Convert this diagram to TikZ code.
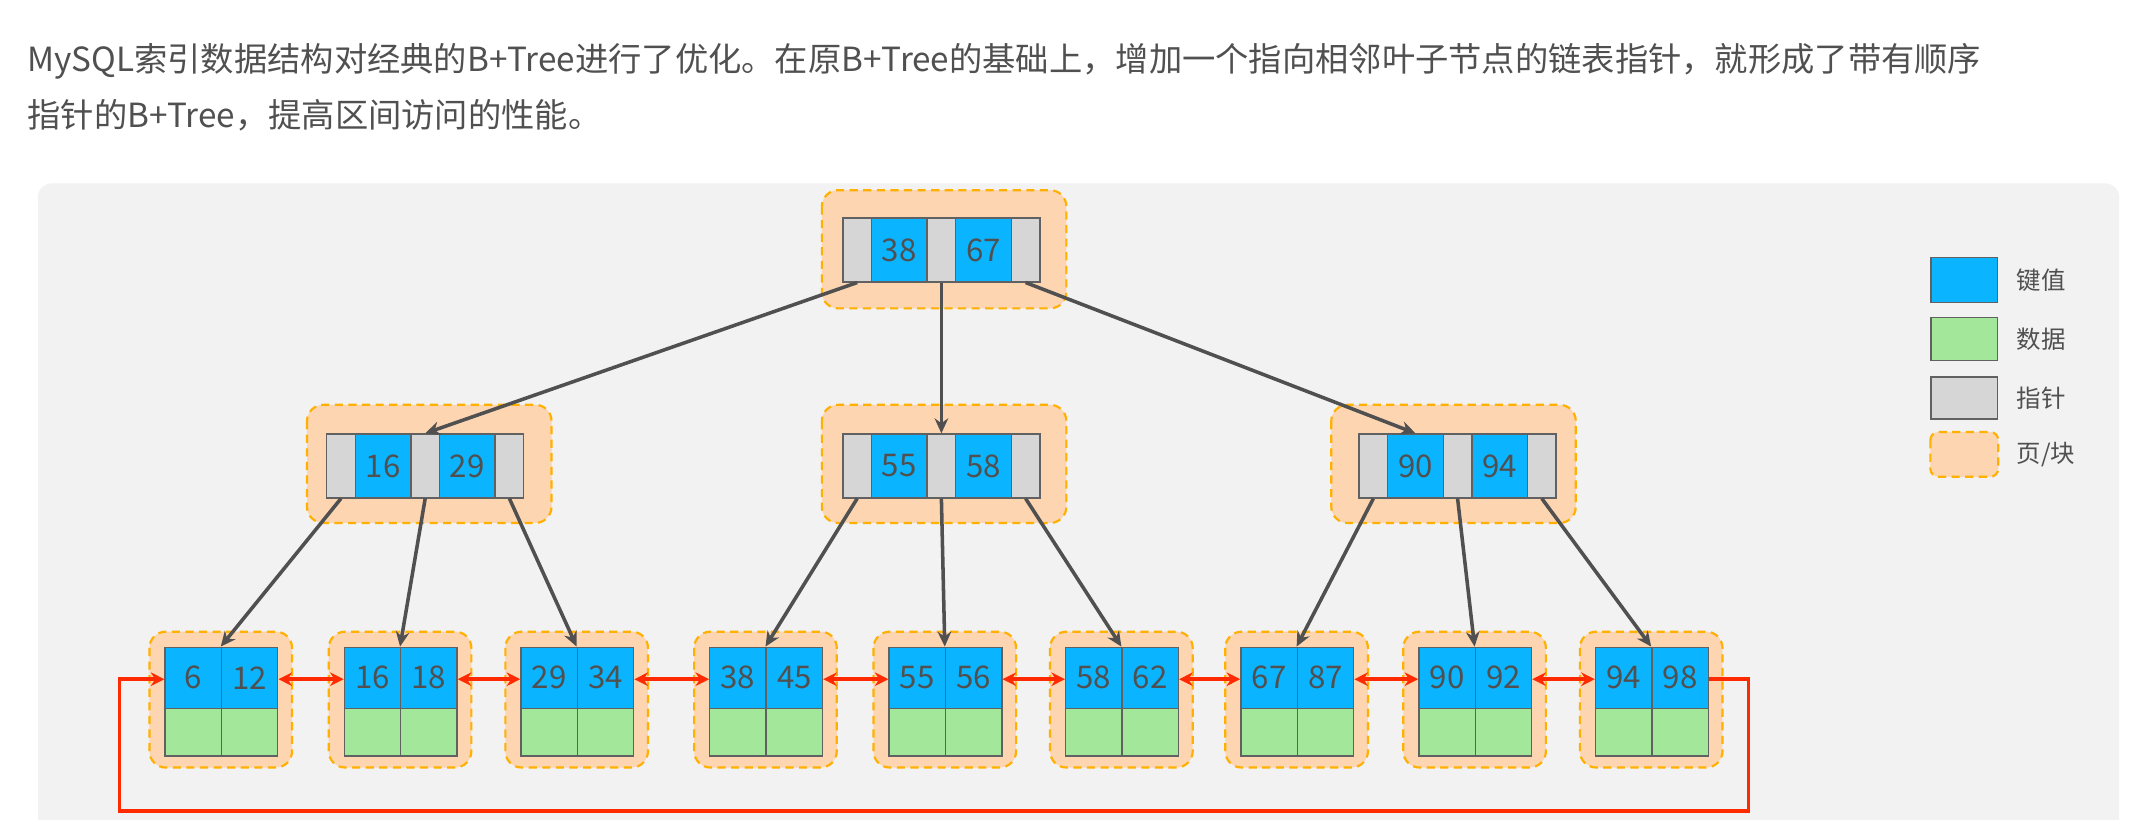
\documentclass[tikz,border=0pt]{standalone}
\usepackage{fontspec}
\setmainfont{Noto Sans CJK SC}
\usetikzlibrary{arrows.meta}
\definecolor{kblue}{HTML}{0BB4FF}
\definecolor{kgreen}{HTML}{A3E89A}
\definecolor{kgray}{HTML}{D6D6D6}
\definecolor{kpage}{HTML}{FDD5B1}
\definecolor{kdash}{HTML}{FFB000}
\definecolor{ktext}{HTML}{505050}
\definecolor{kred}{HTML}{FF2A00}
\definecolor{kbg}{HTML}{F2F2F2}
\tikzset{
 cell/.style={draw=ktext!90,line width=1pt,minimum height=47pt,inner sep=0pt,anchor=north west,text=ktext,font=\fontsize{23}{23}\selectfont},
 key/.style={cell,fill=kblue,minimum width=41pt},
 ptr/.style={cell,fill=kgray,minimum width=21pt},
 lkey/.style={cell,fill=kblue,minimum width=41.5pt,minimum height=45pt},
 ldat/.style={cell,fill=kgreen,minimum width=41.5pt,minimum height=35pt},
 page/.style={fill=kpage,draw=kdash,dashed,line width=1.6pt,rounded corners=12pt,dash pattern=on 6pt off 4pt},
 tree/.style={draw=ktext,line width=2.6pt,-{Stealth[length=11pt,width=10pt]}},
 link/.style={draw=kred,line width=2.6pt,{Stealth[length=10pt,width=10pt]}-{Stealth[length=10pt,width=10pt]}},
 title/.style={anchor=base west,text=ktext,font=\fontsize{24.5}{24.5}\selectfont,inner sep=0pt},
}
\begin{document}
\begin{tikzpicture}[x=1pt,y=-1pt]
\useasboundingbox (0,0) rectangle (1568,603.6);
\fill[white] (0,0) rectangle (1568,603.6);
\fill[kbg,rounded corners=10pt] (28,135) rectangle (1560,640);
\node[title] (t1) at (20,53) {MySQL索引数据结构对经典的B+Tree进行了优化。在原B+Tree的基础上，增加一个指向相邻叶子节点的链表指针，就形成了带有顺序};
\node[title] (t2) at (20,94) {指针的B+Tree，提高区间访问的性能。};
% inner nodes
\foreach \nm/\fx/\fy/\ix/\iy/\a/\b in {r/605/140/620/160/38/67, ml/226/298/240/319/16/29, mm/605/298/620/319/55/58, mr/980/298/1000/319/90/94}{
 \fill[page] (\fx,\fy) rectangle ++(180,87);
 \node[ptr] (\nm p0) at (\ix,\iy) {};
 \node[key] (\nm k1) at (\ix+21,\iy) {\a};
 \node[ptr] (\nm p1) at (\ix+62,\iy) {};
 \node[key] (\nm k2) at (\ix+83,\iy) {\b};
 \node[ptr] (\nm p2) at (\ix+124,\iy) {};
}
% leaves
\foreach \i/\x/\a/\b in {1/121/6/12,2/253/16/18,3/383/29/34,4/522/38/45,5/654/55/56,6/784/58/62,7/913/67/87,8/1044/90/92,9/1174/94/98}{
 \fill[page] (\x-11,465) rectangle ++(105,100);
 \node[lkey] (l\i a) at (\x,476) {\a};
 \node[lkey] (l\i b) at (\x+41.5,476) {\b};
 \node[ldat] (l\i c) at (\x,521) {};
 \node[ldat] (l\i d) at (\x+41.5,521) {};
 \coordinate (l\i t) at (\x+41.5,476);
}
% tree arrows
\draw[tree] (rp0.south) -- (mlp1.north);
\draw[tree] (rp1.south) -- (mmp1.north);
\draw[tree] (rp2.south) -- (mrk1.north);
\draw[tree] (mlp0.south) -- (l1t);
\draw[tree] (mlp1.south) -- (l2t);
\draw[tree] (mlp2.south) -- (l3t);
\draw[tree] (mmp0.south) -- (l4t);
\draw[tree] (mmp1.south) -- (l5t);
\draw[tree] (mmp2.south) -- (l6t);
\draw[tree] (mrp0.south) -- (l7t);
\draw[tree] (mrp1.south) -- (l8t);
\draw[tree] (mrp2.south) -- (l9t);
% leaf links
\foreach \i/\j in {1/2,2/3,3/4,4/5,5/6,6/7,7/8,8/9}{
 \draw[link] ([yshift=-1pt]l\i b.east) -- ([yshift=-1pt]l\j a.west);
}
\coordinate (c1) at (1287,597);
\coordinate (c2) at (88,597);
\draw[draw=kred,line width=2.6pt,-{Stealth[length=10pt,width=10pt]}] ([yshift=-1pt]l9b.east) -| (c1) -- (c2) |- ([yshift=-1pt]l1a.west);
% legend
\node[cell,fill=kblue,minimum width=49pt,minimum height=33pt] (g1) at (1421,189) {};
\node[cell,fill=kgreen,minimum width=49pt,minimum height=32pt] (g2) at (1421,233) {};
\node[cell,fill=kgray,minimum width=49pt,minimum height=31pt] (g3) at (1421,277) {};
\fill[page,rounded corners=6pt] (1421,318) rectangle (1471,351);
\coordinate (g4) at (1471,334.5);
\foreach \g/\t in {g1/键值,g2/数据,g3/指针}{
 \node[anchor=west,text=ktext,font=\fontsize{18}{18}\selectfont] at ([xshift=10pt]\g.east) {\t};
}
\node[anchor=west,text=ktext,font=\fontsize{18}{18}\selectfont] (g4t) at ([xshift=10pt]g4) {页/块};
\end{tikzpicture}
\end{document}
